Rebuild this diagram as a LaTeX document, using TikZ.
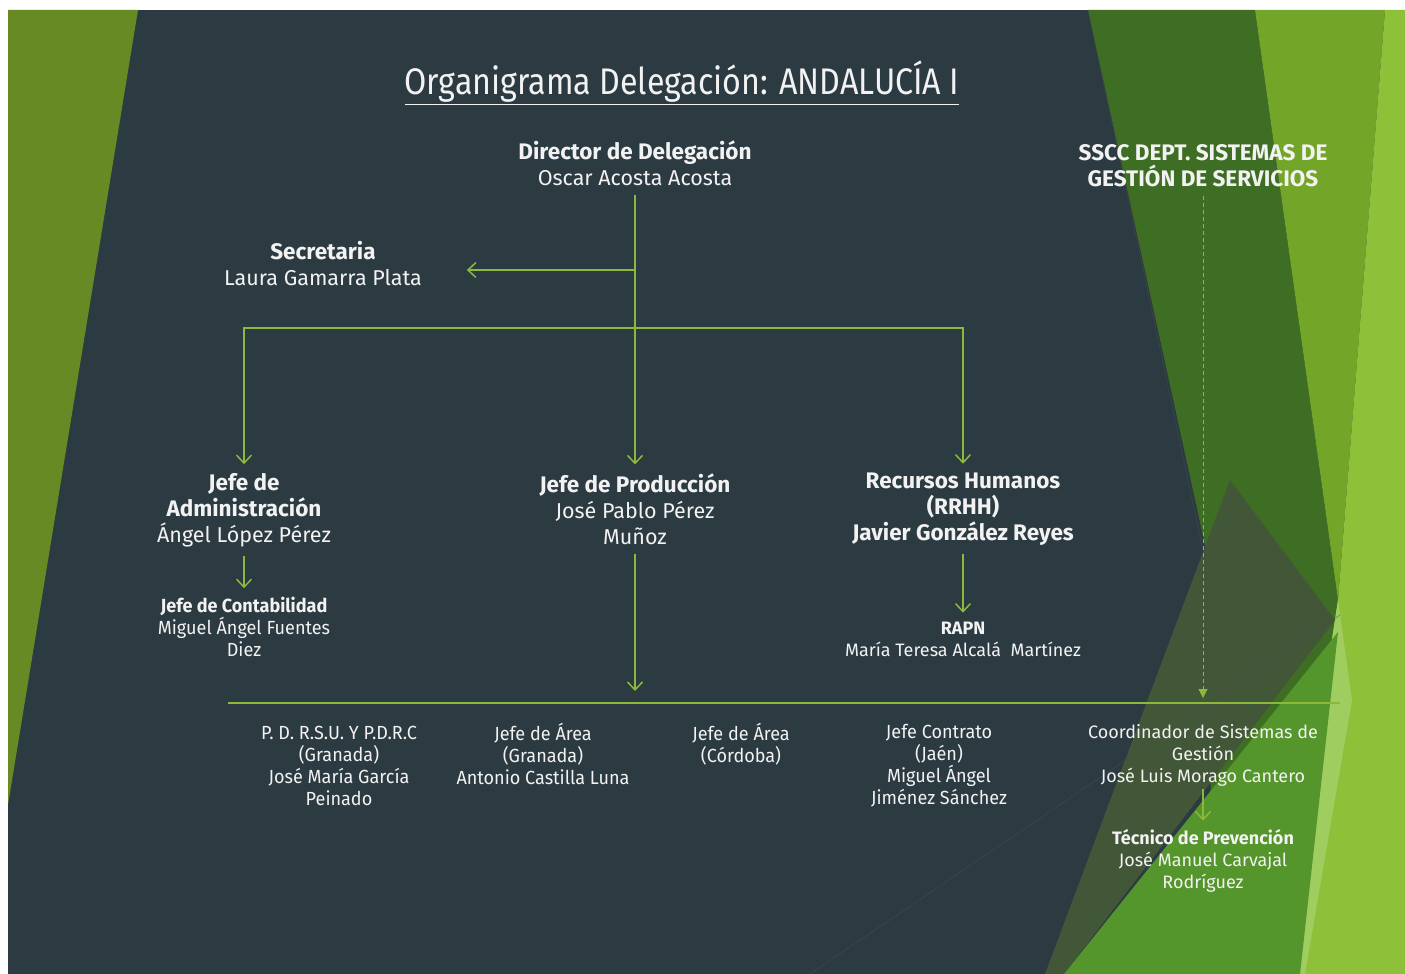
\documentclass[tikz,border=0pt]{standalone}
\usepackage{fontspec}
\setmainfont{Fira Sans}
\newfontfamily\narrowfont[FakeStretch=0.95]{Fira Sans}
\newfontfamily\titlefont[FakeStretch=0.87]{Fira Sans}
\usetikzlibrary{arrows.meta}
\definecolor{slate}{RGB}{44,58,66}
\definecolor{olive}{RGB}{104,138,36}
\definecolor{darkleaf}{RGB}{62,110,35}
\definecolor{midleaf}{RGB}{115,165,40}
\definecolor{lightleaf}{RGB}{143,192,58}
\definecolor{paleleaf}{RGB}{160,205,95}
\definecolor{mossleaf}{RGB}{66,86,56}
\definecolor{brightleaf}{RGB}{84,150,44}
\definecolor{wire}{RGB}{140,185,60}
\definecolor{txt}{RGB}{242,242,242}
\newcommand{\hd}[1]{{\fontsize{22.5}{26}\selectfont\bfseries #1}}

\begin{document}
\begin{tikzpicture}[x=1pt,y=-1pt]
	\tikzstyle{p} = [align=center, text=txt, inner sep=0pt, outer sep=9pt, font=\fontsize{21.5}{26}\selectfont]
	\tikzstyle{q} = [p, font=\narrowfont\fontsize{19}{22}\selectfont]
	\tikzstyle{s} = [p, font=\fontsize{18}{22}\selectfont]
	\tikzstyle{conn} = [wire, line width=1.5pt, -{Straight Barb[length=8pt,width=15pt]}]
	\tikzstyle{dashconn} = [wire, line width=1pt, dash pattern=on 4pt off 3pt, -{Triangle[length=9pt,width=9pt]}]
	\useasboundingbox (0,0) rectangle (1405,974);
	
	% background
	\fill[white] (0,0) rectangle (1405,974);
	\fill[slate] (8,10) rectangle (1405,974);
	\fill[olive] (8,10) -- (138,10) -- (8,805) -- cycle;
	\fill[darkleaf] (1088,10) -- (1255,10) -- (1338,600) -- (1320,974) -- (1215,974) -- (1205,545) -- cycle;
	\fill[midleaf] (1255,10) -- (1385,10) -- (1338,600) -- cycle;
	\fill[lightleaf] (1385,10) -- (1405,10) -- (1405,974) -- (1280,974) -- (1338,600) -- cycle;
	\fill[paleleaf] (1338,600) -- (1352,700) -- (1305,974) -- (1282,974) -- cycle;
	\fill[mossleaf] (1230,480) -- (1335,620) -- (1064,974) -- (1045,974) -- cycle;
	\fill[brightleaf] (1064,974) -- (1338,632) -- (1300,974) -- cycle;
	\draw[black!70, line width=0.8pt, opacity=0.5] (1088,10) -- (1205,560);
	\draw[black!70, line width=0.8pt, opacity=0.5] (810,974) -- (1340,615);
	
	% title
	\node[text=txt, font=\titlefont\fontsize{37}{40}\selectfont] (title) at (682,83) {\underline{Organigrama Delegación: ANDALUCÍA I}};
	
	% top levels
	\node[p] (dir) at (635,163) {\hd{Director de Delegación}\\Oscar Acosta Acosta};
	\node[p] (sec) at (323,264) {\hd{Secretaria}\\Laura Gamarra Plata};
	\node[p] (adm) at (244,510) {\hd{Jefe de}\\\hd{Administración}\\Ángel López Pérez};
	\node[p] (prod) at (635,509) {\hd{Jefe de Producción}\\José Pablo Pérez\\Muñoz};
	\node[p] (rrhh) at (963,509) {\hd{Recursos Humanos}\\\hd{(RRHH)}\\\hd{Javier González Reyes}};
	\node[p] (sscc) at (1203,166) {\hd{SSCC DEPT. SISTEMAS DE}\\\hd{GESTIÓN DE SERVICIOS}};
	
	\node[q] (cont) at (244,627) {\textbf{Jefe de Contabilidad}\\Miguel Ángel Fuentes\\Diez};
	\node[s] (rapn) at (963,639) {\textbf{RAPN}\\María Teresa Alcalá\ \ Martínez};
	
	% bottom row
	\coordinate (busL) at (228,703);
	\coordinate (busR) at (1340,703);
	\node[q] (pdr) at (339,766) {P. D. R.S.U. Y P.D.R.C\\(Granada)\\José María García\\Peinado};
	\node[q] (areag) at (543,754) {Jefe de Área\\(Granada)\\Antonio Castilla Luna};
	\node[q] (areac) at (741,744) {Jefe de Área\\(Córdoba)};
	\node[q] (contr) at (939,766) {Jefe Contrato\\(Jaén)\\Miguel Ángel\\Jiménez Sánchez};
	\node[s] (coord) at (1203,755) {Coordinador de Sistemas de\\Gestión\\José Luis Morago Cantero};
	\node[s] (tec) at (1203,861) {\textbf{Técnico de Prevención}\\José Manuel Carvajal\\Rodríguez};
	
	% connectors
	\coordinate (jsec) at (635,270);
	\coordinate (bus) at (635,328);
	\draw[conn] (dir) -- (prod);
	\draw[conn, shorten >=36pt] (jsec) -- (jsec -| sec.east);
	\draw[conn] (bus) -| (adm);
	\draw[conn] (bus) -| (rrhh);
	\draw[conn] (adm) -- (cont);
	\draw[conn] (rrhh) -- (rapn);
	\draw[conn, shorten >=12pt] (prod) -- (prod |- busL);
	\draw[wire, line width=1.2pt] (busL) -- (busR);
	\draw[dashconn, shorten >=5pt] (sscc) -- (sscc |- busL);
	\draw[conn, shorten <=-6pt] (coord) -- (tec);
	
\end{tikzpicture}
\end{document}
